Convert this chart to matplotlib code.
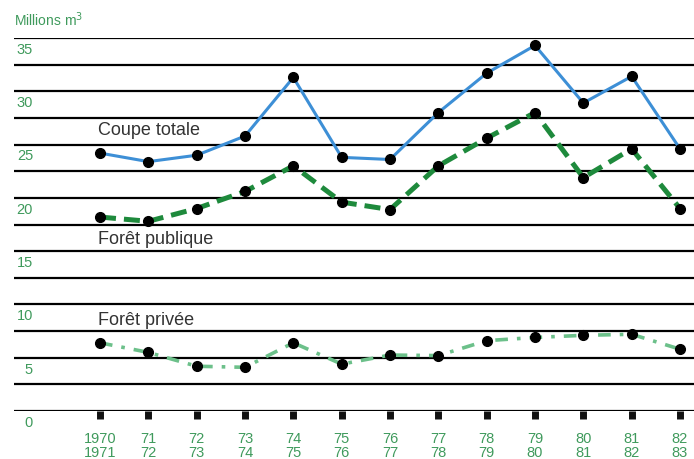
import matplotlib
matplotlib.use("Agg")
import matplotlib.pyplot as plt
import matplotlib.transforms as mtransforms

plt.rcParams['font.family'] = ['Liberation Sans', 'DejaVu Sans']

years_top = ["1970", "71", "72", "73", "74", "75", "76", "77", "78", "79", "80", "81", "82"]
years_bot = ["1971", "72", "73", "74", "75", "76", "77", "78", "79", "80", "81", "82", "83"]
coupe_totale = [24.2, 23.4, 24.0, 25.8, 31.3, 23.8, 23.6, 28.0, 31.7, 34.3, 28.9, 31.4, 24.6]
foret_publique = [18.2, 17.8, 19.0, 20.6, 23.0, 19.6, 18.9, 23.0, 25.6, 28.0, 21.9, 24.6, 19.0]
foret_privee = [6.4, 5.5, 4.2, 4.1, 6.4, 4.4, 5.25, 5.2, 6.6, 6.9, 7.1, 7.2, 5.8]
y_labels = [0, 5, 10, 15, 20, 25, 30, 35]

W, H = 694, 459
fig = plt.figure(figsize=(W / 100, H / 100), dpi=100)
left, right, top, bottom = 14, 694, 38, 411
ax = fig.add_axes([left / W, 1 - bottom / H, (right - left) / W, (bottom - top) / H])
ax.set_ylim(0, 35)
x = list(range(len(years_top)))
step = 48.33
ax.set_xlim(-(100 - left) / step, (len(x) - 1) + (right - 680) / step)
for s in ax.spines.values():
    s.set_visible(False)

green_lbl = '#3f9a5c'
# horizontal rules
for i in range(15):
    ax.axhline(i * 2.5, color='black', lw=1.6, zorder=1)

ax.plot(x, coupe_totale, color='#3d8fd6', lw=2.2, zorder=3, clip_on=False)
ax.plot(x, foret_publique, color='#1e8a3c', lw=3.6, dashes=(3.2, 1.6), zorder=3, clip_on=False)
ax.plot(x, foret_privee, color='#6cc08a', lw=2.6, dashes=(3.5, 2.5, 1.0, 2.5), zorder=3, clip_on=False)
for series in (coupe_totale, foret_publique, foret_privee):
    ax.plot(x, series, 'o', color='black', ms=7, zorder=4, clip_on=False)

# x ticks
ax.set_xticks(x)
ax.set_xticklabels([f"{a}\n{b}" for a, b in zip(years_top, years_bot)],
                   color=green_lbl, fontsize=10.5, linespacing=1.0)
ax.tick_params(axis='x', direction='out', length=6, width=5, color='#111111', pad=9)
ax.set_yticks([])

trans = mtransforms.blended_transform_factory(ax.transAxes, ax.transData)
for v in y_labels:
    ax.text(19 / (right - left), v - 0.45, str(v), transform=trans, ha='right', va='top',
            color=green_lbl, fontsize=10.5)

fig.text(left / W, 1 - 20 / H, "Millions m$^3$", color=green_lbl, fontsize=10, ha='left', va='center')

ax.text(-0.05, 26.3, "Coupe totale", color='#333333', fontsize=13, ha='left', va='center')
ax.text(-0.05, 16.1, "Forêt publique", color='#333333', fontsize=13, ha='left', va='center')
ax.text(-0.05, 8.5, "Forêt privée", color='#333333', fontsize=13, ha='left', va='center')

fig.savefig("out.png", dpi=100, facecolor='white')
